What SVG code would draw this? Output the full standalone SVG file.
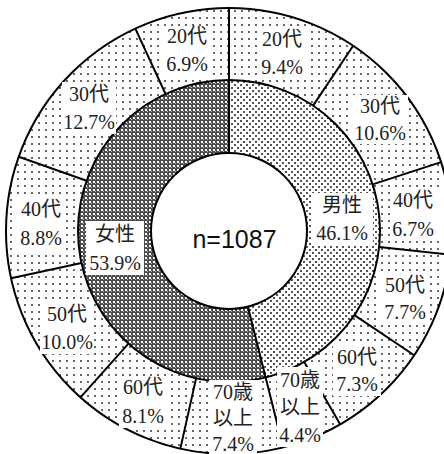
<svg xmlns="http://www.w3.org/2000/svg" width="444" height="454" viewBox="0 0 444 454">
<style>
.ln{stroke:#000;stroke-width:2;fill:none}
.bx{fill:#fff;stroke:none}
.lb{font-family:"Liberation Serif","Noto Sans CJK JP",serif;font-size:20px;fill:#222;text-anchor:middle}
.nn{font-family:"Liberation Sans","Noto Sans",sans-serif;font-size:25px;fill:#111;text-anchor:middle}
</style>
<defs>
<pattern id="pOuter" width="7" height="7" patternUnits="userSpaceOnUse"><rect width="7" height="7" fill="#fff"/><rect x="3" y="3" width="2" height="2" fill="#666"/></pattern>
<pattern id="pMale" width="6" height="6" patternUnits="userSpaceOnUse"><rect width="6" height="6" fill="#fff"/><rect x="0" y="0" width="2" height="2" fill="#555"/><rect x="3" y="3" width="2" height="2" fill="#555"/></pattern>
<pattern id="pFem" width="4" height="4" patternUnits="userSpaceOnUse"><rect width="4" height="4" fill="#4d4d4d"/><rect x="1" y="1" width="2" height="2" fill="#fff"/><rect x="3" y="3" width="1" height="1" fill="#bbb"/></pattern>
</defs>
<g id="rings">
<circle cx="229" cy="231" r="223" fill="url(#pOuter)"/>
<path d="M229,80 A151,151 0 0 1 265.63,377.49 L247.92,306.67 A78,78 0 0 0 229,153 Z" fill="url(#pMale)"/>
<path d="M265.63,377.49 A151,151 0 1 1 229,80 L229,153 A78,78 0 1 0 247.92,306.67 Z" fill="url(#pFem)"/>
<circle cx="229" cy="231" r="78" fill="#fff"/>
</g>
<g id="connectors">
<circle class="ln" cx="229" cy="231" r="223"/>
<circle class="ln" cx="229" cy="231" r="151"/>
<circle class="ln" cx="229" cy="231" r="78"/>
<line class="ln" x1="229" y1="153" x2="229" y2="8"/>
<line class="ln" x1="247.92" y1="306.67" x2="283.10" y2="447.33"/>
<line class="ln" x1="313.09" y1="105.58" x2="353.19" y2="45.78"/>
<line class="ln" x1="372.61" y1="184.34" x2="441.09" y2="162.09"/>
<line class="ln" x1="379.14" y1="247.10" x2="450.73" y2="254.77"/>
<line class="ln" x1="354.39" y1="315.12" x2="414.18" y2="355.23"/>
<line class="ln" x1="304.23" y1="361.93" x2="340.10" y2="424.36"/>
<line class="ln" x1="196.07" y1="378.37" x2="180.36" y2="448.63"/>
<line class="ln" x1="128.45" y1="343.66" x2="80.50" y2="397.38"/>
<line class="ln" x1="81.43" y1="263.01" x2="11.06" y2="278.28"/>
<line class="ln" x1="86.61" y1="180.75" x2="18.71" y2="156.79"/>
<line class="ln" x1="165.58" y1="93.97" x2="135.34" y2="28.63"/>
</g>
<g id="center"><text class="nn" x="234.5" y="248">n=1087</text></g>
<g id="m20"><rect class="bx" x="258" y="28" width="48" height="50"/><text class="lb" x="282" y="46">20代</text><text class="lb" x="282" y="74">9.4%</text></g>
<g id="m30"><rect class="bx" x="353" y="95" width="55" height="49"/><text class="lb" x="380" y="113">30代</text><text class="lb" x="380" y="140">10.6%</text></g>
<g id="m40"><rect class="bx" x="390" y="189" width="50" height="52"/><text class="lb" x="413" y="207">40代</text><text class="lb" x="413" y="236">6.7%</text></g>
<g id="m50"><rect class="bx" x="381" y="273" width="48" height="51"/><text class="lb" x="405" y="292">50代</text><text class="lb" x="405" y="319">7.7%</text></g>
<g id="m60"><rect class="bx" x="333" y="346" width="48" height="50"/><text class="lb" x="357" y="364">60代</text><text class="lb" x="357" y="391">7.3%</text></g>
<g id="m70"><rect class="bx" x="277" y="367" width="46" height="80"/><text class="lb" x="300" y="387">70歳</text><text class="lb" x="300" y="414">以上</text><text class="lb" x="300" y="442">4.4%</text></g>
<g id="male"><rect class="bx" x="311" y="193" width="62" height="52"/><text class="lb" x="342" y="212">男性</text><text class="lb" x="342" y="240">46.1%</text></g>
<g id="female"><rect class="bx" x="86" y="221" width="58" height="54"/><text class="lb" x="115" y="241">女性</text><text class="lb" x="115" y="270">53.9%</text></g>
<g id="f70"><rect class="bx" x="209" y="380" width="48" height="74"/><text class="lb" x="233" y="399">70歳</text><text class="lb" x="233" y="425">以上</text><text class="lb" x="233" y="451">7.4%</text></g>
<g id="f60"><rect class="bx" x="119" y="376" width="48" height="52"/><text class="lb" x="143" y="394">60代</text><text class="lb" x="143" y="423">8.1%</text></g>
<g id="f50"><rect class="bx" x="40" y="302" width="54" height="52"/><text class="lb" x="67" y="321">50代</text><text class="lb" x="67" y="349">10.0%</text></g>
<g id="f40"><rect class="bx" x="17" y="197" width="48" height="53"/><text class="lb" x="41" y="216">40代</text><text class="lb" x="41" y="245">8.8%</text></g>
<g id="f30"><rect class="bx" x="62" y="82" width="54" height="52"/><text class="lb" x="89" y="101">30代</text><text class="lb" x="89" y="129">12.7%</text></g>
<g id="f20"><rect class="bx" x="163" y="26" width="48" height="50"/><text class="lb" x="187" y="43">20代</text><text class="lb" x="187" y="71">6.9%</text></g>
</svg>
